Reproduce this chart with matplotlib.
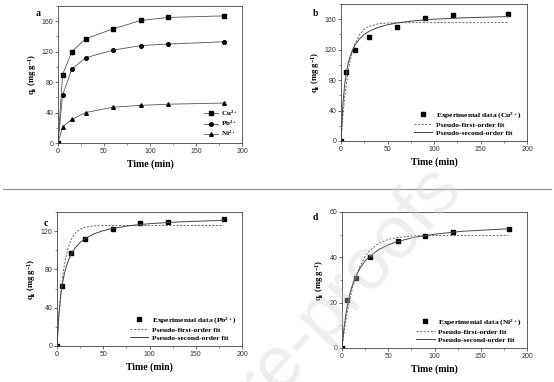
import numpy as np
import matplotlib
matplotlib.use("Agg")
import matplotlib.pyplot as plt
from matplotlib.lines import Line2D

# experimental points
t_exp = [0, 5, 15, 30, 60, 90, 120, 180]
q_cu = [0, 90, 120, 137, 150, 161, 165, 167]
q_pb = [0, 63, 97, 112, 122, 128, 130, 133]
q_ni = [0, 21, 31, 40, 47, 49.5, 51, 52.5]

# fit curves at these times
t_fit = [0, 2, 4, 6, 8, 10, 12, 15, 20, 25, 30, 40, 50, 60, 80, 100, 130, 180]
cu_pfo = [0, 32.0, 57.3, 77.5, 93.5, 106.3, 116.4, 127.8, 139.9, 146.7, 150.6,
          153.9, 155.0, 155.3, 155.5, 155.5, 155.5, 155.5]
cu_pso = [0, 48.0, 74.7, 91.6, 103.4, 112.0, 118.6, 126.0, 134.4, 140.0, 144.0,
          149.3, 152.7, 155.1, 158.1, 160.0, 161.8, 163.5]
pb_pfo = [0, 30.8, 54.0, 71.6, 84.9, 94.9, 102.5, 110.6, 118.3, 122.2, 124.1,
          125.5, 125.9, 126.0, 126.0, 126.0, 126.0, 126.0]
pb_pso = [0, 32.3, 52.3, 65.8, 75.5, 82.9, 88.6, 95.3, 103.0, 108.2, 112.1,
          117.2, 120.5, 122.9, 125.9, 127.8, 129.6, 131.3]
ni_pfo = [0, 6.2, 11.6, 16.4, 20.6, 24.2, 27.4, 31.4, 36.6, 40.3, 43.0,
          46.3, 47.9, 48.8, 49.5, 49.6, 49.7, 49.7]
ni_pso = [0, 8.3, 14.5, 19.2, 23.0, 26.1, 28.6, 31.7, 35.6, 38.4, 40.5,
          43.5, 45.5, 47.0, 49.0, 50.2, 51.5, 52.6]

serif = "Liberation Serif"
sans = "Liberation Sans"
plt.rcParams["font.family"] = sans
plt.rcParams["mathtext.fontset"] = "custom"
plt.rcParams["mathtext.rm"] = "Liberation Serif:bold"
plt.rcParams["mathtext.it"] = "Liberation Serif:bold"
plt.rcParams["mathtext.bf"] = "Liberation Serif:bold"

fig = plt.figure(figsize=(5.54, 3.82), dpi=100)
W, H = 554, 382

def make_ax(l, r, top, bot):
    return fig.add_axes([l / W, 1 - bot / H, (r - l) / W, (bot - top) / H])

def style(ax, ymax, ystep, letter, lx, ly):
    ax.set_xlim(0, 200)
    ax.set_ylim(0, ymax)
    ax.set_xticks(np.arange(0, 201, 50))
    ax.set_xticks(np.arange(0, 201, 25), minor=True)
    ax.set_yticks(np.arange(0, ymax + 1, ystep / 2), minor=True)
    ax.tick_params(labelsize=5, length=2, width=0.5, pad=1.5, colors="#333")
    ax.tick_params(which="minor", length=1.2, width=0.4, colors="#333")
    for s in ax.spines.values():
        s.set_linewidth(0.6)
        s.set_color("#444")
    ax.set_xlabel("Time (min)", family=serif, weight="bold", fontsize=7, labelpad=3)
    ax.set_ylabel(r"q$_\mathregular{t}$ (mg g$^\mathregular{-1}$)", family=serif,
                  weight="bold", fontsize=6.2, labelpad=2)
    fig.text(lx / W, 1 - ly / H, letter, family=serif,
             weight="bold", fontsize=7, ha="center", va="center")

# a
ax = make_ax(58, 242, 6, 143)
kw = dict(color="#555", lw=0.6, mfc="black", mec="black", ms=2.6)
ax.plot(t_exp, q_cu, marker="s", label="Cu$^{2+}$", **kw)
ax.plot(t_exp, q_pb, marker="o", label="Pb$^{2+}$", **kw)
ax.plot(t_exp, q_ni, marker="^", label="Ni$^{2+}$", **kw)
style(ax, 180, 40, "a", 38, 14)
ax.set_yticks([0, 40, 80, 120, 160])
ax.legend(loc="lower right", frameon=False, prop={"family": serif, "weight": "bold", "size": 5},
          handlelength=2.0, labelspacing=0.15, borderaxespad=0.25, handletextpad=0.4)

def fit_panel(ax, q, pfo, pso, ion):
    ax.plot(t_exp, q, "s", color="black", ms=2.6, ls="none",
            label="Experimental data (" + ion + ")")
    ax.plot(t_fit, pfo, ls=(0, (2.5, 1.8)), color="#555", lw=0.6, label="Pseudo-first-order fit")
    ax.plot(t_fit, pso, ls="-", color="#444", lw=0.7, label="Pseudo-second-order fit")
    ax.legend(loc="lower right", frameon=False,
              prop={"family": serif, "weight": "bold", "size": 5.4},
              handlelength=2.5, labelspacing=0.2, borderaxespad=0.3, handletextpad=0.5)

ax = make_ax(341, 527, 4, 141)
fit_panel(ax, q_cu, cu_pfo, cu_pso, "Cu$^{2+}$")
style(ax, 180, 40, "b", 316, 13)
ax.set_yticks([0, 40, 80, 120, 160])

ax = make_ax(57, 242, 212, 346)
fit_panel(ax, q_pb, pb_pfo, pb_pso, "Pb$^{2+}$")
style(ax, 140, 40, "c", 46, 223)
ax.set_yticks([0, 40, 80, 120])

ax = make_ax(342, 527, 212, 348)
fit_panel(ax, q_ni, ni_pfo, ni_pso, "Ni$^{2+}$")
style(ax, 60, 20, "d", 315, 218)
ax.set_yticks([0, 20, 40, 60])

# separator line
fig.add_artist(Line2D([3 / W, 551 / W], [1 - 189 / H] * 2, color="#999", lw=0.9))

# faint watermark, only its tail is inside the page
fig.text(244 / W, 1 - 408 / H, "Journal Pre-proofs", rotation=48, fontsize=54,
         color="#d0d0d0", alpha=0.35, ha="center", va="center", family=sans,
         rotation_mode="anchor", zorder=10)

fig.savefig("out.png", dpi=100)
